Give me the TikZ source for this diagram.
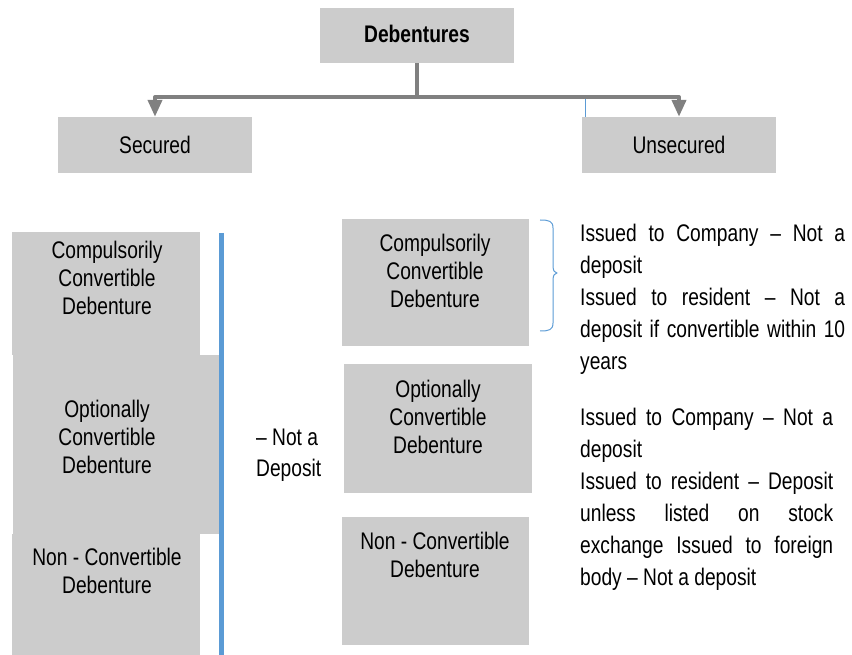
\documentclass[tikz,border=0pt]{standalone}
\usepackage{fontspec}
\setmainfont{Liberation Sans}[FakeStretch=0.8]
\usetikzlibrary{arrows.meta}
\definecolor{boxgray}{RGB}{204,204,204}
\definecolor{linkgray}{RGB}{128,128,128}
\definecolor{rulebl}{RGB}{91,155,213}
\begin{document}
\begin{tikzpicture}[x=1pt, y=-1pt, font=\fontsize{24}{28}\selectfont, line join=round,
	box/.style={fill=boxgray, inner sep=0pt},
	lbl/.style={align=center, inner sep=0pt},
	link/.style={draw=linkgray, line width=4pt},
	note/.style={align=justify, inner sep=0pt, anchor=north west, font=\fontsize{24}{32}\selectfont,
		execute at begin node={\tolerance=10000\hyphenpenalty=10000\emergencystretch=20pt}}]
	\useasboundingbox (0,0) rectangle (852,655);
	% top level
	\node[box, minimum width=194pt, minimum height=55pt, text depth=4pt] (deb) at (417,35.5) {\bfseries Debentures};
	\node[box, minimum width=194pt, minimum height=56pt] (sec) at (155,145) {Secured};
	\node[box, minimum width=194pt, minimum height=56pt] (unsec) at (679,145) {Unsecured};
	\coordinate (split) at (417,97);
	\draw[link] (deb) -- (split);
	\draw[link, -{Triangle[width=14pt,length=17pt]}] (split) -| (sec);
	\draw[link, -{Triangle[width=14pt,length=17pt]}] (split) -| (unsec);
	\coordinate (tick) at (585,99);
	\draw[draw=rulebl, line width=1pt] (tick) -- ++(0,18);
	% secured column
	\node[box, minimum width=188pt, minimum height=123pt] (ccdL) at (106,293.5) {};
	\node[box, minimum width=206pt, minimum height=179pt] (ocdL) at (116,444.5) {};
	\node[box, minimum width=188pt, minimum height=121pt] (ncdL) at (106,594.5) {};
	\node[lbl] (ccdLt) at (107,278) {Compulsorily\\Convertible\\Debenture};
	\node[lbl] (ocdLt) at (107,437) {Optionally\\Convertible\\Debenture};
	\node[lbl] (ncdLt) at (107,571) {Non - Convertible\\Debenture};
	\coordinate (ruleA) at (221.5,233);
	\coordinate (ruleB) at (221.5,655);
	\draw[draw=rulebl, line width=5pt] (ruleA) -- (ruleB);
	\node[lbl, align=left, anchor=west, font=\fontsize{24}{31}\selectfont] (notdep) at (256,455) {– Not a\\Deposit};
	% unsecured column
	\node[box, minimum width=187pt, minimum height=127pt] (ccdM) at (435.5,282.5) {};
	\node[box, minimum width=188pt, minimum height=129pt] (ocdM) at (438,428.5) {};
	\node[box, minimum width=187pt, minimum height=128pt] (ncdM) at (435.5,581) {};
	\node[lbl] (ccdMt) at (435,271) {Compulsorily\\Convertible\\Debenture};
	\node[lbl] (ocdMt) at (438,417) {Optionally\\Convertible\\Debenture};
	\node[lbl] (ncdMt) at (435,555) {Non - Convertible\\Debenture};
	\draw[draw=rulebl, line width=1pt] (540,220) .. controls (549,220) and (553,221) .. (553,228) -- (553,266)
		.. controls (553,271) and (555,273) .. (557,273) .. controls (555,273) and (553,275) .. (553,280)
		-- (553,323) .. controls (553,330) and (549,331) .. (540,331);
	\node[note, text width=265pt] (ccdN) at (580,223.5) {Issued to Company – Not a\linebreak deposit\par
		Issued to resident – Not a\linebreak deposit if convertible within 10\linebreak years};
	\node[note, text width=253pt] (ocdN) at (580,407.5) {Issued to Company – Not a\linebreak deposit\par
		Issued to resident – Deposit\linebreak unless listed on stock\linebreak exchange Issued to foreign\linebreak body – Not a deposit};
\end{tikzpicture}
\end{document}
